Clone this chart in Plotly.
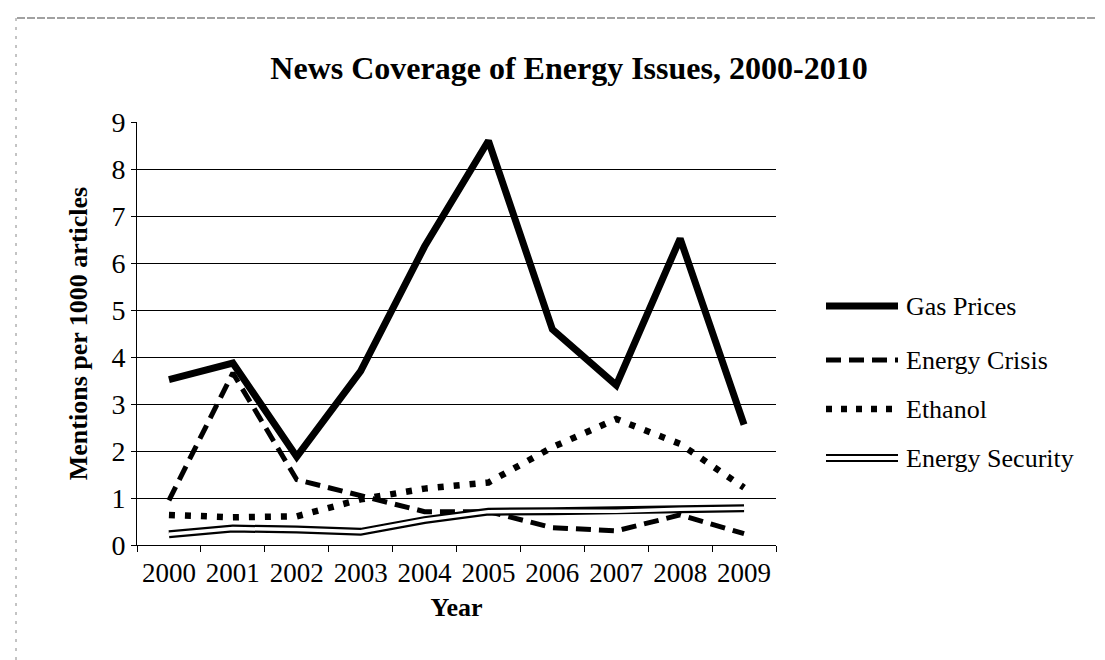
import plotly.graph_objects as go

years = ["2000", "2001", "2002", "2003", "2004", "2005", "2006", "2007", "2008", "2009"]
gas_prices = [3.52, 3.87, 1.88, 3.7, 6.35, 8.6, 4.59, 3.4, 6.52, 2.56]
energy_crisis = [0.95, 3.66, 1.39, 1.06, 0.71, 0.71, 0.37, 0.3, 0.64, 0.24]
ethanol = [0.64, 0.59, 0.61, 0.97, 1.2, 1.33, 2.08, 2.68, 2.15, 1.22]
energy_security = [0.23, 0.35, 0.33, 0.28, 0.53, 0.71, 0.72, 0.72, 0.76, 0.78]
series_names = ["Gas Prices", "Energy Crisis", "Ethanol", "Energy Security"]

FONT = "Liberation Serif, Times New Roman, serif"
W, H = 1105, 660
L, R, T, B = 129, 768, 114, 537

def px(x):
    return (x - L) / (R - L)

def py(y):
    return (B - y) / (B - T)

fig = go.Figure()
fig.add_trace(go.Scatter(x=years, y=gas_prices, mode="lines", name=series_names[0],
                         line=dict(color="black", width=7), showlegend=False))
fig.add_trace(go.Scatter(x=years, y=energy_crisis, mode="lines", name=series_names[1],
                         line=dict(color="black", width=5, dash="15px,8px"), showlegend=False))
fig.add_trace(go.Scatter(x=years, y=ethanol, mode="lines", name=series_names[2],
                         line=dict(color="black", width=6.5, dash="6px,10px"), showlegend=False))
fig.add_trace(go.Scatter(x=years, y=energy_security, mode="lines", name=series_names[3],
                         line=dict(color="black", width=8), showlegend=False))
fig.add_trace(go.Scatter(x=years, y=energy_security, mode="lines", name=series_names[3] + " (inner)",
                         line=dict(color="white", width=3.5), showlegend=False, hoverinfo="skip"))

# custom legend
shapes = []
annotations = []
rows = [298, 352, 401, 450]
x0, x1 = 818, 890
for i, (name, ry) in enumerate(zip(series_names, rows)):
    if i == 0:
        shapes.append(dict(type="line", xref="paper", yref="paper", x0=px(x0), x1=px(x1),
                           y0=py(ry), y1=py(ry), line=dict(color="black", width=7)))
    elif i == 1:
        shapes.append(dict(type="line", xref="paper", yref="paper", x0=px(x0), x1=px(x1),
                           y0=py(ry), y1=py(ry), line=dict(color="black", width=5, dash="15px,8px")))
    elif i == 2:
        shapes.append(dict(type="line", xref="paper", yref="paper", x0=px(x0), x1=px(x1),
                           y0=py(ry), y1=py(ry), line=dict(color="black", width=6.5, dash="6px,9px")))
    else:
        for dy in (-3, 3):
            shapes.append(dict(type="line", xref="paper", yref="paper", x0=px(x0), x1=px(x1),
                               y0=py(ry + dy), y1=py(ry + dy), line=dict(color="black", width=2.2)))
    annotations.append(dict(text=name, xref="paper", yref="paper", x=px(x1 + 6), y=py(ry),
                            xanchor="left", yanchor="middle", showarrow=False,
                            font=dict(family=FONT, size=26, color="black")))

# faint scan border at top and left
shapes.append(dict(type="line", xref="paper", yref="paper", x0=px(9), x1=px(1105), y0=py(10), y1=py(10),
                   line=dict(color="#444", width=1.2, dash="8px,2px")))
shapes.append(dict(type="line", xref="paper", yref="paper", x0=px(8), x1=px(8), y0=py(10), y1=py(660),
                   line=dict(color="#888", width=1, dash="3px,6px")))

fig.update_layout(
    width=W, height=H,
    margin=dict(l=L, r=W - R, t=T, b=H - B, pad=0),
    paper_bgcolor="white", plot_bgcolor="white",
    font=dict(family=FONT, color="black", size=26),
    title=dict(text="<b>News Coverage of Energy Issues, 2000-2010</b>", x=561 / W, xref="container",
               y=1 - 60 / H, yref="container", xanchor="center", yanchor="middle",
               font=dict(family=FONT, size=32, color="black")),
    showlegend=False,
    shapes=shapes,
    annotations=annotations,
    xaxis=dict(type="category", range=[-0.5, 9.5], showgrid=False, showline=True, linecolor="black",
               linewidth=1, ticks="outside", tickson="boundaries", ticklen=6, tickcolor="black",
               ticklabelstandoff=4,
               tickfont=dict(family=FONT, size=27, color="black"),
               title=dict(text="<b>Year</b>", font=dict(family=FONT, size=26, color="black"), standoff=10),
               zeroline=False, fixedrange=True),
    yaxis=dict(range=[0, 9], dtick=1, showgrid=True, gridcolor="black", gridwidth=1, showline=True,
               linecolor="black", linewidth=1, ticks="outside", ticklen=5, tickcolor="black",
               tickfont=dict(family=FONT, size=28, color="black"),
               title=dict(text="<b>Mentions per 1000 articles</b>", font=dict(family=FONT, size=26, color="black"),
                          standoff=16),
               zeroline=False, fixedrange=True),
)

fig.write_html("out.html")
